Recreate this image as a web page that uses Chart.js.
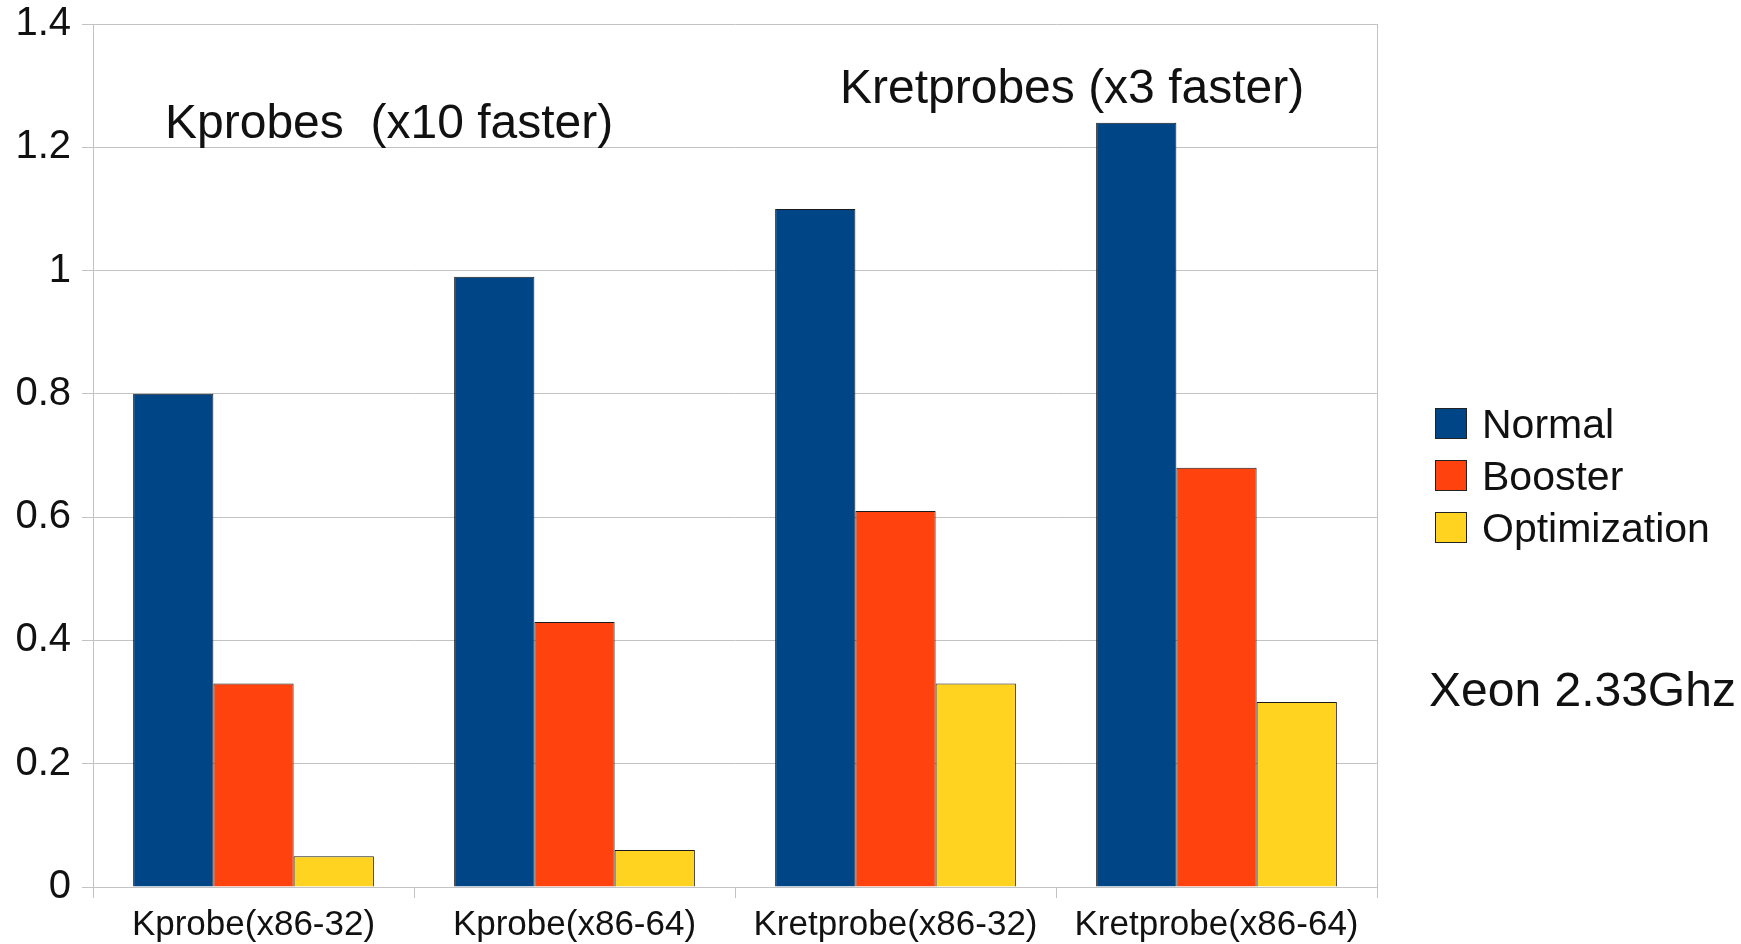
<!DOCTYPE html>
<html>
<head>
<meta charset="utf-8">
<script src="https://cdn.jsdelivr.net/npm/chart.js@4/dist/chart.umd.min.js"></script>
<style>
  html, body { margin: 0; padding: 0; background: #ffffff; }
  #wrap { width: 1741px; height: 944px; position: relative; }
</style>
</head>
<body>
<div id="wrap"><canvas id="c" width="1741" height="944"></canvas></div>
<script>
const categories = ["Kprobe(x86-32)", "Kprobe(x86-64)", "Kretprobe(x86-32)", "Kretprobe(x86-64)"];
const seriesNames = ["Normal", "Booster", "Optimization"];
const normalValues = [0.80, 0.99, 1.10, 1.24];
const boosterValues = [0.33, 0.43, 0.61, 0.68];
const optimizationValues = [0.05, 0.06, 0.33, 0.30];
const yTickValues = [0, 0.2, 0.4, 0.6, 0.8, 1, 1.2, 1.4];
const yTickLabels = ["0", "0.2", "0.4", "0.6", "0.8", "1", "1.2", "1.4"];
const annotationTexts = ["Kprobes  (x10 faster)", "Kretprobes (x3 faster)"];
const sideNote = "Xeon 2.33Ghz";

const colors = ["#004586", "#ff420e", "#ffd320"];
const FONT = "'Liberation Sans', Arial, sans-serif";
const GRID = "#c3c3c3";

const overlay = {
  id: "overlay",
  afterDraw(chart) {
    const ctx = chart.ctx;
    ctx.save();
    ctx.fillStyle = "#111111";
    ctx.textBaseline = "alphabetic";
    ctx.textAlign = "left";
    ctx.font = "48px " + FONT;
    ctx.fillText(annotationTexts[0], 165, 138);
    ctx.fillText(annotationTexts[1], 840, 103);
    ctx.fillText(sideNote, 1429, 706);
    // legend
    const ds = chart.data.datasets;
    ctx.font = "41px " + FONT;
    ctx.textBaseline = "middle";
    ds.forEach((d, i) => {
      const top = 408 + i * 52;
      ctx.fillStyle = d.backgroundColor;
      ctx.fillRect(1435.5, top + 0.5, 31, 30);
      ctx.strokeStyle = "#222222";
      ctx.lineWidth = 1;
      ctx.strokeRect(1435.5, top + 0.5, 31, 30);
      ctx.fillStyle = "#111111";
      ctx.fillText(d.label, 1482, top + 19);
    });
    ctx.restore();
  }
};

new Chart(document.getElementById("c"), {
  type: "bar",
  data: {
    labels: categories,
    datasets: [
      { label: seriesNames[0], data: normalValues, backgroundColor: colors[0] },
      { label: seriesNames[1], data: boosterValues, backgroundColor: colors[1] },
      { label: seriesNames[2], data: optimizationValues, backgroundColor: colors[2] }
    ].map(d => Object.assign(d, {
      borderColor: "#1a1a1a",
      borderWidth: 1,
      categoryPercentage: 0.75,
      barPercentage: 1.0
    }))
  },
  options: {
    responsive: false,
    animation: false,
    layout: { padding: { left: 0, right: 364, top: 24, bottom: 0 } },
    plugins: { legend: { display: false }, tooltip: { enabled: false } },
    scales: {
      x: {
        offset: true,
        afterFit: s => { s.height = 57; s.paddingLeft = 0; s.paddingRight = 0; },
        grid: { display: true, drawOnChartArea: false, color: GRID, tickLength: 11, offset: true },
        border: { display: true, color: GRID },
        ticks: { color: "#111111", font: { family: FONT, size: 35 }, padding: 6, maxRotation: 0 }
      },
      y: {
        min: 0, max: 1.4,
        afterFit: s => { s.width = 93; s.paddingTop = 0; s.paddingBottom = 0; },
        afterBuildTicks: s => { s.ticks = yTickValues.map(v => ({ value: v })); },
        grid: { color: GRID, tickLength: 11 },
        border: { display: true, color: GRID },
        ticks: {
          color: "#111111",
          font: { family: FONT, size: 40 },
          padding: 11,
          callback: (v) => { const i = yTickValues.indexOf(v); return i >= 0 ? yTickLabels[i] : ""; }
        }
      },
      y2: {
        position: "right",
        min: 0, max: 1.4,
        afterFit: s => { s.width = 0; s.paddingTop = 0; s.paddingBottom = 0; },
        grid: { display: false, drawTicks: false },
        border: { display: true, color: GRID },
        ticks: { display: false }
      }
    }
  },
  plugins: [overlay]
});
</script>
</body>
</html>
